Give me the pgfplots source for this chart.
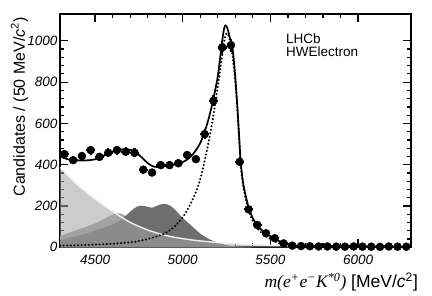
\documentclass[border=0pt]{standalone}
\usepackage{fontspec}
\setmainfont{Liberation Sans}
\newfontfamily\serifit{Liberation Serif}
\usepackage{pgfplots}
\pgfplotsset{compat=1.18}
\usepackage{pgfplotstable}

\definecolor{midgray}{gray}{0.63}
\definecolor{darkgray}{gray}{0.43}
\definecolor{lightfill}{gray}{0.64}

\pgfplotstableread{
x y ey
4325 451 21.2
4375 422 20.5
4425 442 21.0
4475 471 21.7
4525 438 20.9
4575 458 21.4
4625 471 21.7
4675 463 21.5
4725 458 21.4
4775 376 19.4
4825 362 19.0
4875 398 19.9
4925 398 19.9
4975 407 20.2
5025 447 21.1
5075 427 20.7
5125 548 23.4
5175 710 26.6
5225 968 31.1
5275 979 31.3
5325 414 20.3
5375 184 13.6
5425 108 10.4
5475 68 8.2
5525 44 6.6
5575 19 4.4
5625 8 2.8
5675 6 2.4
5725 5 2.2
5775 4 2.0
5825 4 2.0
5875 3 1.7
5925 3 1.7
5975 4 2.0
6025 3 1.7
6075 3 1.7
6125 2 1.4
6175 4 2.0
6225 3 1.7
6275 3 1.7
}\datatab

\pgfplotstableread{
x y
4300 441
4325 432
4350 425
4375 421
4400 420
4450 421
4500 426
4550 444
4600 464
4650 474
4700 472
4725 463
4750 448
4775 428
4800 408
4825 394
4850 389
4875 390
4900 393
4925 397
4950 401
4975 406
5000 413
5025 425
5050 443
5075 470
5100 505
5125 560
5150 630
5175 720
5200 830
5218 950
5230 1030
5240 1072
5250 1070
5260 1045
5270 1010
5281 979
5290 920
5300 820
5310 700
5320 560
5330 420
5340 340
5350 285
5375 195
5400 140
5425 106
5450 84
5475 67
5500 54
5525 42
5550 30
5575 20
5600 13
5625 9
5650 7
5700 5.5
5800 4.5
6000 3.8
6300 3
}\totaltab

\pgfplotstableread{
x y
4300 8
4400 10
4500 13
4600 17
4700 24
4750 30
4800 40
4850 52
4900 68
4950 98
5000 145
5025 180
5050 220
5075 268
5100 330
5125 420
5150 520
5175 640
5200 780
5220 900
5235 990
5245 1030
5255 1035
5265 1015
5281 950
5300 800
5310 685
5320 545
5330 405
5340 325
5350 270
5375 180
5400 126
5425 92
5450 70
5475 53
5500 41
5525 30
5550 19
5575 10
5600 5
5650 2
5700 1
6300 0
}\sigtab

\pgfplotstableread{
x y
4300 55
4400 85
4500 115
4550 137
4600 158
4625 165
4650 162
4675 152
4700 137
4750 112
4800 92
4900 72
5000 56
5100 38
5200 18
5300 4
5400 0
}\midtab

\pgfplotstableread{
x y
4300 35
4400 55
4500 80
4600 110
4650 135
4700 172
4725 190
4750 200
4775 201
4800 196
4825 192
4850 200
4875 208
4900 210
4925 203
4950 187
4975 165
5000 142
5050 104
5100 66
5150 40
5200 22
5250 10
5300 3
5350 0
}\darktab

\pgfplotstableread{
x y
4300 388
4350 344
4400 303
4450 267
4500 234
4550 203
4600 174
4650 146
4700 121
4750 101
4800 84
4850 70
4900 58
4950 49
5000 42
5050 36
5100 31
5200 23
5300 17
5400 13
5500 10
5600 7.5
5800 5
6000 3.5
6300 2.5
}\lighttab

\begin{document}
\begin{tikzpicture}
\begin{axis}[
  at={(0,0)}, anchor=south west,
  scale only axis, width=350.7bp, height=233.3bp,
  xmin=4300, xmax=6300, ymin=0, ymax=1130,
  xtick={4500,5000,5500,6000}, ytick={0,200,400,600,800,1000},
  minor x tick num=4, minor y tick num=4,
  tick align=inside, xtick pos=both, ytick pos=both,
  xticklabel pos=lower, yticklabel pos=left,
  major tick length=8bp, minor tick length=4bp,
  tick style={black, line width=1.2bp},
  axis line style={line width=1.8bp},
  /pgf/number format/assume math mode=true,
  /pgf/number format/1000 sep={},
  ticklabel style={font=\fontsize{13.5bp}{14bp}\selectfont\itshape},
  xticklabel style={anchor=north, inner sep=0pt, yshift=-7.5bp},
  yticklabel style={anchor=east, inner sep=0pt, xshift=-2.5bp},
  xlabel={{\serifit\itshape m(e\textsuperscript{+}e\textsuperscript{−}K\textsuperscript{*0})} [MeV/\textit{c}\textsuperscript{2}]},
  xlabel style={at={(axis description cs:1.021,0)}, anchor=base east, yshift=-40bp, inner sep=0pt, font=\fontsize{17.5bp}{19bp}\selectfont},
  ylabel={Candidates / (50 MeV/\textit{c}\textsuperscript{2})},
  ylabel style={at={(axis description cs:-0.1155,0.987)}, anchor=east, inner sep=0pt, font=\fontsize{16bp}{18bp}\selectfont},
]
\addplot[draw=none, fill=midgray, smooth] table {\midtab} \closedcycle;
\addplot[draw=none, fill=darkgray, smooth] table {\darktab} \closedcycle;
\addplot[draw=none, fill=lightfill, fill opacity=0.55, smooth] table {\lighttab} \closedcycle;
\addplot[gray!12, line width=1.4bp, smooth] table {\lighttab};
\addplot[black, line width=2.3bp, line cap=round, dash pattern=on 0pt off 3.6bp, smooth] table {\sigtab};
\addplot[black, line width=1.7bp, smooth] table {\totaltab};
\addplot[only marks, mark=*, mark size=4bp, black,
  error bars/.cd, y dir=both, y explicit, x dir=both, x fixed=25,
  error mark=none, error bar style={line width=2.2bp, black}]
  table[x=x, y=y, y error=ey] {\datatab};
\node[anchor=north west, align=left, inner sep=0pt, font=\fontsize{13.5bp}{13bp}\selectfont] at (axis description cs:0.644,0.917) {LHCb\\HWElectron};
\end{axis}
\pgfresetboundingbox
\useasboundingbox (-60bp,-48.7bp) rectangle (372bp,247.3bp);
\end{tikzpicture}
\end{document}
